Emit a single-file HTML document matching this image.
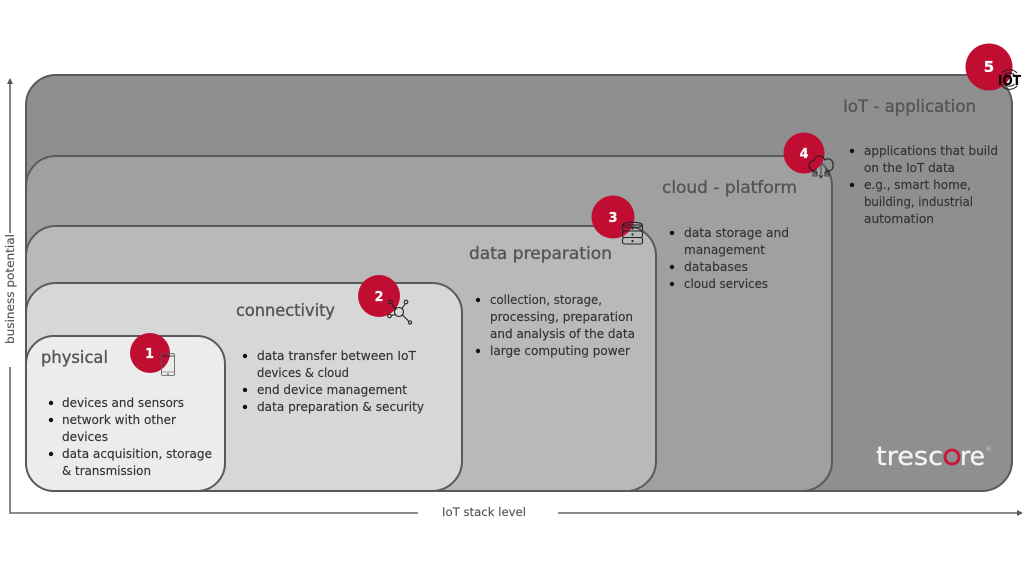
<!DOCTYPE html>
<html><head><meta charset="utf-8"><style>
html,body{margin:0;padding:0;background:#fff;width:1024px;height:576px;overflow:hidden}
svg{display:block}
text{font-family:"DejaVu Sans","Liberation Sans",sans-serif;fill:#333;font-size:12px;stroke:#333;stroke-width:.15}
.h{font-size:16.5px;fill:#555;stroke:#555;stroke-width:.35}
.a{font-size:11.5px;fill:#555;stroke:#555;stroke-width:.15}
.n{font-size:13px;fill:#fff;stroke:#fff;stroke-width:.2;font-weight:bold;text-anchor:middle}
.i{fill:none;stroke:#222;stroke-width:1.1}
.l{font-size:26px;fill:#f4f4f4;stroke:#f4f4f4;stroke-width:.3}
</style></head><body>
<svg width="1024" height="576" viewBox="0 0 1024 576" xmlns="http://www.w3.org/2000/svg">
<g stroke="#5a5a5a" stroke-width="2">
<rect x="26" y="75" width="986" height="416" rx="30" fill="#8f8f8f"/>
<rect x="26" y="156" width="806" height="335" rx="30" fill="#a0a0a0"/>
<rect x="26" y="226" width="630" height="265" rx="30" fill="#b9b9b9"/>
<rect x="26" y="283" width="436" height="208" rx="30" fill="#d7d7d7"/>
<rect x="26" y="336" width="199" height="155" rx="28" fill="#ececec"/>
</g>
<!-- axes -->
<g stroke="#666" stroke-width="1.6" fill="none">
<path d="M10 233V82"/><path d="M10 367V513H418"/><path d="M558 513H1021"/>
</g>
<path d="M10 78l-3 6h6z" fill="#555"/>
<path d="M1023 513l-6-3v6z" fill="#555"/>
<text class="a" x="442" y="516" textLength="84" lengthAdjust="spacingAndGlyphs">IoT stack level</text>
<text class="a" transform="translate(14 344) rotate(-90)" textLength="110" lengthAdjust="spacingAndGlyphs">business potential</text>
<!-- headings -->
<text class="h" x="41" y="363" textLength="67" lengthAdjust="spacingAndGlyphs">physical</text>
<text class="h" x="236" y="316" textLength="99" lengthAdjust="spacingAndGlyphs">connectivity</text>
<text class="h" x="469" y="259" textLength="143" lengthAdjust="spacingAndGlyphs">data preparation</text>
<text class="h" x="662" y="193" textLength="135" lengthAdjust="spacingAndGlyphs">cloud - platform</text>
<text class="h" x="843" y="112" textLength="133" lengthAdjust="spacingAndGlyphs">IoT - application</text>
<!-- bullets -->
<g fill="#111">
<circle cx="51" cy="403" r="2.2"/><circle cx="51" cy="420" r="2.2"/><circle cx="51" cy="454" r="2.2"/>
<circle cx="245" cy="356" r="2.2"/><circle cx="245" cy="390" r="2.2"/><circle cx="245" cy="407" r="2.2"/>
<circle cx="478" cy="300" r="2.2"/><circle cx="478" cy="351" r="2.2"/>
<circle cx="672" cy="233" r="2.2"/><circle cx="672" cy="267" r="2.2"/><circle cx="672" cy="284" r="2.2"/>
<circle cx="852" cy="151" r="2.2"/><circle cx="852" cy="185" r="2.2"/>
</g>
<g>
<text x="62" y="407" textLength="122" lengthAdjust="spacingAndGlyphs">devices and sensors</text>
<text x="62" y="424" textLength="114" lengthAdjust="spacingAndGlyphs">network with other</text>
<text x="62" y="441" textLength="46" lengthAdjust="spacingAndGlyphs">devices</text>
<text x="62" y="458" textLength="150" lengthAdjust="spacingAndGlyphs">data acquisition, storage</text>
<text x="62" y="475" textLength="89" lengthAdjust="spacingAndGlyphs">&amp; transmission</text>

<text x="257" y="360" textLength="159" lengthAdjust="spacingAndGlyphs">data transfer between IoT</text>
<text x="257" y="377" textLength="92" lengthAdjust="spacingAndGlyphs">devices &amp; cloud</text>
<text x="257" y="394" textLength="150" lengthAdjust="spacingAndGlyphs">end device management</text>
<text x="257" y="411" textLength="167" lengthAdjust="spacingAndGlyphs">data preparation &amp; security</text>

<text x="490" y="304" textLength="112" lengthAdjust="spacingAndGlyphs">collection, storage,</text>
<text x="490" y="321" textLength="143" lengthAdjust="spacingAndGlyphs">processing, preparation</text>
<text x="490" y="338" textLength="145" lengthAdjust="spacingAndGlyphs">and analysis of the data</text>
<text x="490" y="355" textLength="140" lengthAdjust="spacingAndGlyphs">large computing power</text>

<text x="684" y="237" textLength="105" lengthAdjust="spacingAndGlyphs">data storage and</text>
<text x="684" y="254" textLength="81" lengthAdjust="spacingAndGlyphs">management</text>
<text x="684" y="271" textLength="64" lengthAdjust="spacingAndGlyphs">databases</text>
<text x="684" y="288" textLength="84" lengthAdjust="spacingAndGlyphs">cloud services</text>

<text x="864" y="155" textLength="134" lengthAdjust="spacingAndGlyphs">applications that build</text>
<text x="864" y="172" textLength="91" lengthAdjust="spacingAndGlyphs">on the IoT data</text>
<text x="864" y="189" textLength="107" lengthAdjust="spacingAndGlyphs">e.g., smart home,</text>
<text x="864" y="206" textLength="109" lengthAdjust="spacingAndGlyphs">building, industrial</text>
<text x="864" y="223" textLength="70" lengthAdjust="spacingAndGlyphs">automation</text>
</g>
<!-- badges -->
<g fill="#c00d32">
<circle cx="150" cy="353" r="20"/>
<circle cx="379" cy="296" r="21"/>
<circle cx="613" cy="217" r="21.500"/>
<circle cx="804" cy="153" r="20.500"/>
<circle cx="989" cy="67" r="23.500"/>
</g>
<text class="n" x="149.500" y="358">1</text>
<text class="n" x="379" y="301">2</text>
<text class="n" x="613" y="222">3</text>
<text class="n" x="804" y="158">4</text>
<text class="n" x="989" y="72" style="font-size:15px">5</text>
<!-- phone icon -->
<g fill="none" stroke-width=".8">
<rect x="161.500" y="353.500" width="13" height="22" rx="1.500" stroke="#555"/>
<path d="M162 356h12" stroke="#222"/><path d="M162 372h12" stroke="#888"/>
</g>
<circle cx="168" cy="374" r=".8" fill="#333"/>
<!-- network icon -->
<g class="i" stroke-width="1.200">
<circle cx="399" cy="312" r="4.500"/>
<path d="M395.500 309l-3.500-5M402 308.500l3-4.500M395 314.500l-3.500 1M402.500 315l6 6"/>
<circle cx="390.500" cy="302" r="1.800"/><circle cx="406" cy="302" r="1.800"/><circle cx="389.500" cy="316" r="1.800"/><circle cx="410" cy="322.500" r="1.600"/>
</g>
<!-- database icon -->
<g class="i" stroke-width="1.200">
<ellipse cx="632.500" cy="225" rx="10" ry="2.800"/>
<rect x="622.500" y="225" width="20" height="6" rx="2"/>
<rect x="622.500" y="231" width="20" height="6.500" rx="2"/>
<rect x="622.500" y="237.500" width="20" height="6.500" rx="2"/>
</g>
<g fill="#222"><circle cx="632.500" cy="228.500" r="1.100"/><circle cx="632.500" cy="234.500" r="1.100"/><circle cx="632.500" cy="241" r="1.100"/></g>
<!-- cloud icon -->
<g class="i">
<path d="M815 171c-4 0-6-3-6-5.500 0-3 2.500-5 5-5 .5-3 3-4.500 5-4.500 3 0 5 2 6 4 1-1 2.500-1.500 4-1 2.500 .5 4.500 3 4 6 .5 3-1.500 6-4 6h-3"/>
<path d="M821 165v12M816 168v6h-2M826 168v6h3M819 175l2 3 2-3M813 172h4v4h-4zM825 172h4v4h-4z" stroke-width=".8"/>
</g>
<!-- IoT icon -->
<g class="i" stroke-width=".8">
<path d="M1002 73a10 10 0 0 1 15 0M1004.500 75a7 7 0 0 1 10 0M1002 86a10 10 0 0 0 15 0M1004.500 84a7 7 0 0 0 10 0"/>
</g>
<text x="998" y="85" textLength="23" lengthAdjust="spacingAndGlyphs" style="font-size:13px;font-weight:bold;fill:#000;stroke:#000">IOT</text>
<!-- logo -->
<text class="l" x="876" y="465" textLength="67" lengthAdjust="spacingAndGlyphs">tresc</text>
<circle cx="952" cy="457" r="7" fill="none" stroke="#c8183e" stroke-width="3"/>
<text class="l" x="960" y="465" textLength="25" lengthAdjust="spacingAndGlyphs">re</text>
<text x="985" y="451" style="font-size:7px;fill:#ccc;stroke:none">®</text>
</svg>
</body></html>
